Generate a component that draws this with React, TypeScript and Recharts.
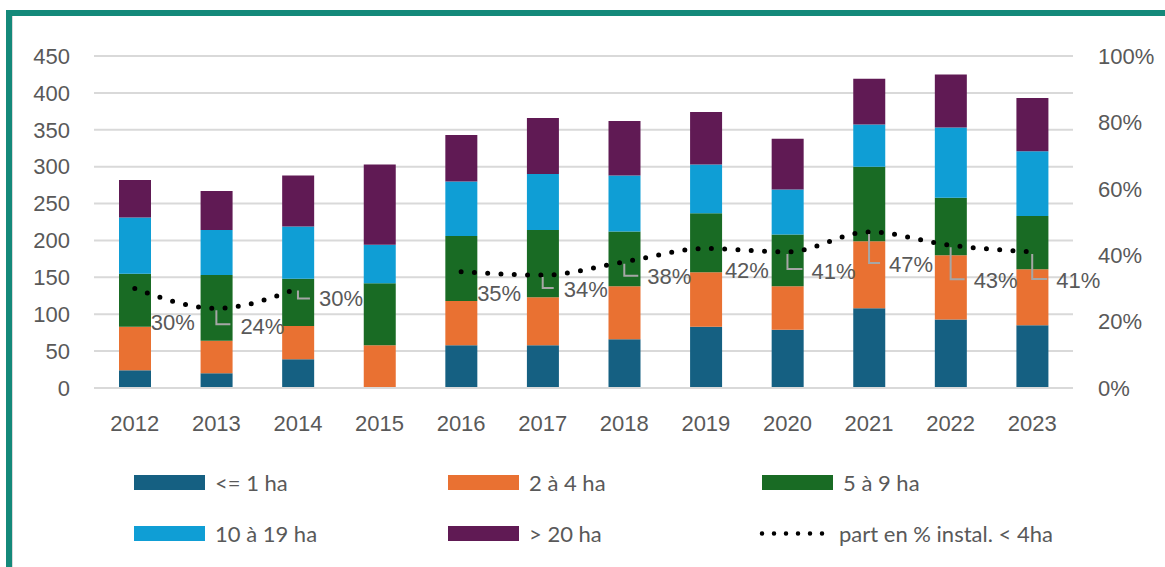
import { ComposedChart, Bar, Line, XAxis, YAxis, CartesianGrid } from "recharts";

const years = ["2012", "2013", "2014", "2015", "2016", "2017", "2018", "2019", "2020", "2021", "2022", "2023"];
const upTo1 = [24, 20, 39, 0, 58, 58, 66, 83, 79, 108, 93, 85];
const from2to4 = [59, 44, 45, 58, 60, 65, 72, 74, 59, 91, 87, 76];
const from5to9 = [72, 89, 64, 84, 88, 91, 74, 80, 70, 101, 78, 72];
const from10to19 = [76, 61, 71, 52, 74, 76, 76, 66, 61, 57, 95, 88];
const over20 = [51, 53, 69, 109, 63, 76, 74, 71, 69, 62, 72, 72];
const shareUnder4 = [0.3, 0.24, 0.3, null, 0.35, 0.34, 0.38, 0.42, 0.41, 0.47, 0.43, 0.41];

const leftTicks = [0, 50, 100, 150, 200, 250, 300, 350, 400, 450];
const rightTicks = [0, 0.2, 0.4, 0.6, 0.8, 1];

const series = [
  { key: "upTo1", name: "<= 1 ha", color: "#156082" },
  { key: "from2to4", name: "2 à 4 ha", color: "#E97132" },
  { key: "from5to9", name: "5 à 9 ha", color: "#196B24" },
  { key: "from10to19", name: "10 à 19 ha", color: "#0F9ED5" },
  { key: "over20", name: "> 20 ha", color: "#601A54" },
];
const lineName = "part en % instal. < 4ha";

// where Excel put each % label relative to its point (dx/dy to text), leader = elbow line
const labelLayout = [
  { dx: 16, dy: 34, lx: 0, ly: 0 },
  { dx: 24, dy: 18, lx: 14, ly: 16 },
  { dx: 21, dy: 10, lx: 12, ly: 10 },
  null,
  { dx: 16, dy: 21, lx: 0, ly: 0 },
  { dx: 21, dy: 14, lx: 11, ly: 13 },
  { dx: 23, dy: 14, lx: 14, ly: 14 },
  { dx: 19, dy: 22, lx: 0, ly: 0 },
  { dx: 24, dy: 19, lx: 15, ly: 17 },
  { dx: 20, dy: 32, lx: 11, ly: 31 },
  { dx: 23, dy: 35, lx: 14, ly: 34 },
  { dx: 24, dy: 28, lx: 15, ly: 27 },
];

const data = years.map((year, i) => ({
  year,
  upTo1: upTo1[i],
  from2to4: from2to4[i],
  from5to9: from5to9[i],
  from10to19: from10to19[i],
  over20: over20[i],
  share: shareUnder4[i],
}));

const axisFont = "'Liberation Sans', Arial, sans-serif";
const tickStyle = { fontSize: 22, fill: "#595959", fontFamily: axisFont };

const renderShareLabel = (props: any) => {
  const { cx, cy, value, index } = props;
  const o = labelLayout[index];
  if (value == null || cy == null || !o) return <g key={`lbl-${index}`} />;
  return (
    <g key={`lbl-${index}`}>
      {o.ly > 0 && (
        <polyline
          points={`${cx},${cy + 2} ${cx},${cy + o.ly} ${cx + o.lx},${cy + o.ly}`}
          fill="none"
          stroke="#a6a6a6"
          strokeWidth={2}
        />
      )}
      <text x={cx + o.dx} y={cy + o.dy} dy="0.35em" fontSize={22} fill="#595959" fontFamily={axisFont}>
        {Math.round((Array.isArray(value) ? value[1] : value) * 100)}%
      </text>
    </g>
  );
};

export default function App() {
  return (
    <div style={{ position: "fixed", left: 0, top: 0, width: 1165, height: 567, overflow: "hidden", background: "#fff" }}>
      <div
        style={{
          position: "absolute", left: 6, top: 10, width: 1200, height: 600,
          border: "6px solid #14897A", boxSizing: "border-box",
        }}
      >
        <div style={{ position: "absolute", left: 0, top: 0, bottom: 0, width: 1, background: "#d9d9d9" }} />
      </div>

      <div style={{ position: "absolute", left: 0, top: 0 }}>
        <ComposedChart width={1165} height={567} data={data} margin={{ top: 56, right: 0, left: 0, bottom: 119 }}>
          <CartesianGrid yAxisId="left" vertical={false} stroke="#d9d9d9" strokeWidth={2} />
          <XAxis
            dataKey="year"
            height={60}
            tick={tickStyle}
            tickLine={false}
            tickSize={0}
            tickMargin={27}
            axisLine={{ stroke: "#d9d9d9", strokeWidth: 2 }}
          />
          <YAxis
            yAxisId="left"
            width={94}
            domain={[0, 450]}
            ticks={leftTicks}
            tick={tickStyle}
            axisLine={false}
            tickLine={false}
            tickSize={0}
            tickMargin={24}
          />
          <YAxis
            yAxisId="right"
            orientation="right"
            width={92}
            domain={[0, 1]}
            ticks={rightTicks}
            tick={tickStyle}
            tickFormatter={(v: number) => `${Math.round(v * 100)}%`}
            axisLine={false}
            tickLine={false}
            tickSize={0}
            tickMargin={25}
          />
          {series.map(s => (
            <Bar
              key={s.key}
              yAxisId="left"
              dataKey={s.key}
              name={s.name}
              stackId="a"
              fill={s.color}
              barSize={32}
              isAnimationActive={false}
            />
          ))}
          <Line
            yAxisId="right"
            dataKey="share"
            name={lineName}
            type="monotone"
            stroke="#000"
            strokeWidth={5}
            strokeDasharray="0 13.3"
            strokeLinecap="round"
            dot={renderShareLabel}
            activeDot={false}
            connectNulls={false}
            isAnimationActive={false}
          />
        </ComposedChart>
      </div>

      {/* legende */}
      <div
        style={{
          position: "absolute", left: 134, top: 470, display: "grid",
          gridTemplateColumns: "314px 314px 314px", rowGap: 27,
          fontFamily: "Lato, sans-serif", fontSize: 22, color: "#595959",
        }}
      >
        {[...series.map(s => ({ name: s.name, color: s.color, dotted: false })), { name: lineName, color: "#000", dotted: true }].map(item => (
          <div key={item.name} style={{ display: "flex", alignItems: "center", height: 24 }}>
            {item.dotted ? (
              <svg width={76} height={15} style={{ marginLeft: -5, marginRight: 6 }}>
                <line x1={5} y1={7.5} x2={76} y2={7.5} stroke="#000" strokeWidth={4.5} strokeLinecap="round" strokeDasharray="0 12" />
              </svg>
            ) : (
              <span style={{ width: 71, height: 15, background: item.color, marginRight: 10, display: "inline-block" }} />
            )}
            <span>{item.name}</span>
          </div>
        ))}
      </div>
    </div>
  );
}
